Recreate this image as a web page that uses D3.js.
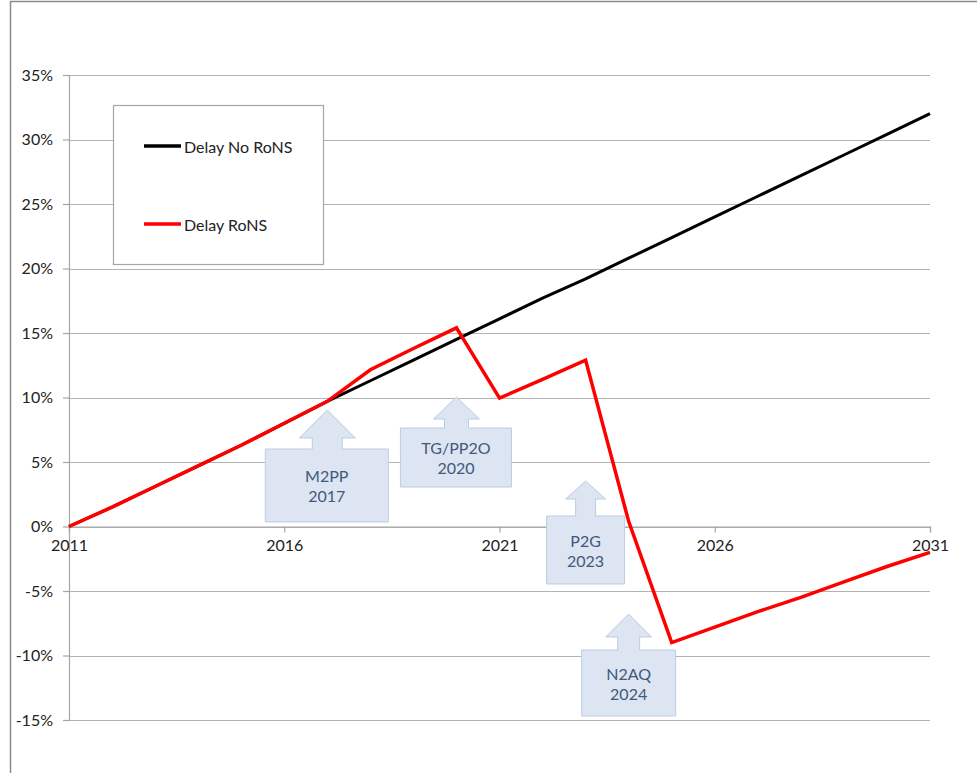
<!DOCTYPE html>
<html>
<head>
<meta charset="utf-8">
<script src="https://cdn.jsdelivr.net/npm/d3@7"></script>
<style>
  html, body { margin: 0; padding: 0; background: #fff; }
  svg { display: block; font-family: Lato, "Open Sans", sans-serif; }
</style>
</head>
<body>
<svg id="chart" width="977" height="773"></svg>
<script>
// Years on the horizontal axis
const years = d3.range(2011, 2032);

// Delay without RoNS (fraction of schedule)
const delayNoRons = [0.000, 0.015, 0.031, 0.047, 0.063, 0.080, 0.097, 0.113, 0.129, 0.145,
                     0.161, 0.177, 0.192, 0.208, 0.224, 0.240, 0.256, 0.272, 0.288, 0.304, 0.320];

// Delay with RoNS
const delayRons = [0.000, 0.015, 0.031, 0.047, 0.063, 0.080, 0.097, 0.1215, 0.138, 0.154,
                   0.0995, 0.114, 0.129, 0.004, -0.090, -0.078, -0.066, -0.055, -0.043, -0.031, -0.020];

// Axis ticks
const yTicks = [-0.15, -0.10, -0.05, 0, 0.05, 0.10, 0.15, 0.20, 0.25, 0.30, 0.35];
const xTicks = [2011, 2016, 2021, 2026, 2031];

// Milestone callouts
const milestoneNames = ["M2PP", "TG/PP2O", "P2G", "N2AQ"];
const milestoneYears = [2017, 2020, 2023, 2024];

const seriesNames = ["Delay No RoNS", "Delay RoNS"];
const seriesColors = ["#000000", "#ff0000"];

const svg = d3.select("#chart");

// Outer chart frame
svg.append("rect")
  .attr("x", 10.5).attr("y", 1.5)
  .attr("width", 1000).attr("height", 800)
  .attr("fill", "#fff").attr("stroke", "#8c8c8c").attr("stroke-width", 1.5);

const x = d3.scaleLinear().domain([2011, 2031]).range([69, 930]);
const y = d3.scaleLinear().domain([-0.15, 0.35]).range([720, 75]);

// Horizontal gridlines
svg.append("g")
  .selectAll("line")
  .data(yTicks)
  .join("line")
  .attr("x1", x(2011)).attr("x2", x(2031))
  .attr("y1", d => Math.round(y(d)) + 0.5).attr("y2", d => Math.round(y(d)) + 0.5)
  .attr("stroke", "#b3b3b3").attr("stroke-width", 1.2);

// Vertical axis
const yAxis = d3.axisLeft(y)
  .tickValues(yTicks)
  .tickSize(6)
  .tickPadding(10)
  .tickFormat(d => Math.round(d * 100) + "%");
const gy = svg.append("g").attr("transform", `translate(${x(2011)},0)`).call(yAxis);
gy.select(".domain").attr("stroke", "#a6a6a6").attr("stroke-width", 1.2);
gy.selectAll(".tick line").attr("stroke", "#a6a6a6").attr("stroke-width", 1.2);
gy.selectAll(".tick text").attr("font-size", 16).attr("fill", "#222")
  .attr("font-family", "Lato, sans-serif");

// Horizontal axis through 0%
const xAxis = d3.axisBottom(x)
  .tickValues(xTicks)
  .tickSize(6)
  .tickPadding(10)
  .tickFormat(d3.format("d"));
const gx = svg.append("g").attr("transform", `translate(0,${y(0)})`).call(xAxis);
gx.select(".domain").attr("stroke", "#a6a6a6").attr("stroke-width", 1.2);
gx.selectAll(".tick line").attr("stroke", "#a6a6a6").attr("stroke-width", 1.2);
gx.selectAll(".tick text").attr("font-size", 16).attr("fill", "#222")
  .attr("font-family", "Lato, sans-serif").attr("dy", "0.55em");

// Callout geometry (pixels, relative to the arrow tip)
const calloutLayout = [
  { tipY: 410, head: 28, headH: 28, stem: 15, top: 39, left: 62, right: 61, bottom: 112 },
  { tipY: 397, head: 23, headH: 22, stem: 12, top: 31, left: 56, right: 55, bottom: 90 },
  { tipY: 481, head: 20, headH: 18, stem: 10, top: 35, left: 39, right: 39, bottom: 103 },
  { tipY: 614, head: 23, headH: 23, stem: 11, top: 36, left: 47, right: 47, bottom: 102 }
];

const callouts = milestoneNames.map((name, i) => ({ name, year: milestoneYears[i], g: calloutLayout[i] }));

const cg = svg.append("g").selectAll("g").data(callouts).join("g");
cg.append("path")
  .attr("d", d => {
    const tx = x(d.year), ty = d.g.tipY, g = d.g;
    const p = d3.path();
    p.moveTo(tx, ty);
    p.lineTo(tx + g.head, ty + g.headH);
    p.lineTo(tx + g.stem, ty + g.headH);
    p.lineTo(tx + g.stem, ty + g.top);
    p.lineTo(tx + g.right, ty + g.top);
    p.lineTo(tx + g.right, ty + g.bottom);
    p.lineTo(tx - g.left, ty + g.bottom);
    p.lineTo(tx - g.left, ty + g.top);
    p.lineTo(tx - g.stem, ty + g.top);
    p.lineTo(tx - g.stem, ty + g.headH);
    p.lineTo(tx - g.head, ty + g.headH);
    p.closePath();
    return p.toString();
  })
  .attr("fill", "#dce5f1")
  .attr("stroke", "#bccde4")
  .attr("stroke-width", 1);

cg.each(function(d) {
  const g = d3.select(this);
  const cx = x(d.year) + (d.g.right - d.g.left) / 2;
  const cy = d.g.tipY + (d.g.top + d.g.bottom) / 2;
  [d.name, String(d.year)].forEach((t, k) => {
    g.append("text")
      .attr("x", cx).attr("y", cy + (k === 0 ? -10 : 10))
      .attr("text-anchor", "middle")
      .attr("dominant-baseline", "central")
      .attr("font-size", 16)
      .attr("fill", "#42587c")
      .text(t);
  });
});

// Series lines
const line = d3.line().x((d, i) => x(years[i])).y(d => y(d));
svg.append("path").datum(delayNoRons)
  .attr("d", line).attr("fill", "none")
  .attr("stroke", seriesColors[0]).attr("stroke-width", 3)
  .attr("stroke-linejoin", "round");
svg.append("path").datum(delayRons)
  .attr("d", line).attr("fill", "none")
  .attr("stroke", seriesColors[1]).attr("stroke-width", 3.5)
  .attr("stroke-linejoin", "miter");

// Legend
const legend = svg.append("g");
legend.append("rect")
  .attr("x", 113.5).attr("y", 105.5).attr("width", 210).attr("height", 159)
  .attr("fill", "#fff").attr("stroke", "#a6a6a6").attr("stroke-width", 1.2);
const legendRows = [146, 224];
seriesNames.forEach((name, i) => {
  legend.append("line")
    .attr("x1", 144).attr("x2", 181)
    .attr("y1", legendRows[i]).attr("y2", legendRows[i])
    .attr("stroke", seriesColors[i]).attr("stroke-width", 3.5);
  legend.append("text")
    .attr("x", 184).attr("y", legendRows[i])
    .attr("dominant-baseline", "central")
    .attr("font-size", 16).attr("fill", "#222")
    .text(name);
});
</script>
</body>
</html>
